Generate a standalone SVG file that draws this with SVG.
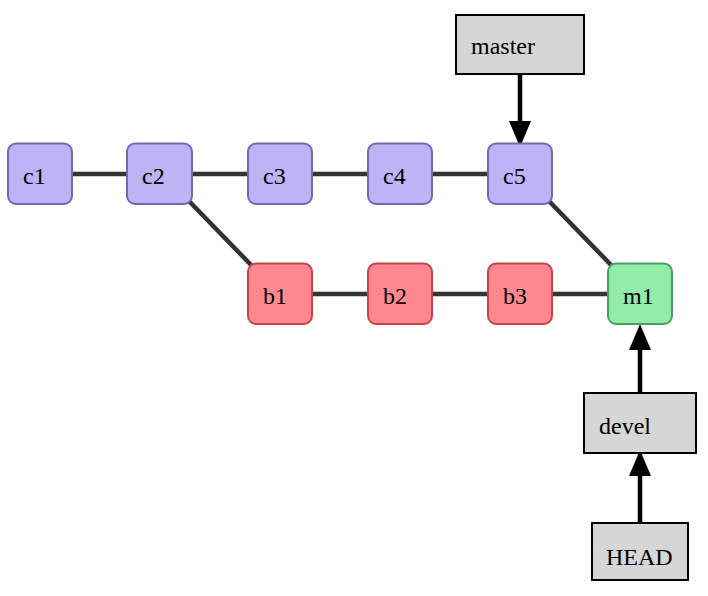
<svg xmlns="http://www.w3.org/2000/svg" width="708" height="596" viewBox="0 0 708 596">
<style>
.n rect{stroke-width:2}
.c rect{fill:#bdb3f5;stroke:#7766b0}
.b rect{fill:#ff8890;stroke:#c8404a}
.m rect{fill:#90eca8;stroke:#4c9f62}
.r rect{fill:#d6d6d6;stroke:#000;stroke-width:2}
text{font-family:"Liberation Serif","Times New Roman",serif;font-size:24px;fill:#000}
.e line{stroke:#333;stroke-width:4.5}
.a line{stroke:#000;stroke-width:4.5}
</style>
<defs>
<marker id="ah" viewBox="0 0 26 22" refX="0" refY="11" markerWidth="26" markerHeight="22" markerUnits="userSpaceOnUse" orient="auto">
<path d="M0,0 L26,11 L0,22 z" fill="#000"/>
</marker>
</defs>
<g id="connectors">
<g class="e">
<line x1="72" y1="174" x2="127" y2="174"/>
<line x1="192" y1="174" x2="248" y2="174"/>
<line x1="312" y1="174" x2="368" y2="174"/>
<line x1="432" y1="174" x2="488" y2="174"/>
<line x1="187" y1="199" x2="253" y2="267"/>
<line x1="547" y1="199" x2="613" y2="267"/>
<line x1="312" y1="294" x2="368" y2="294"/>
<line x1="432" y1="294" x2="488" y2="294"/>
<line x1="552" y1="294" x2="608" y2="294"/>
</g>
<g class="a">
<line x1="520" y1="74" x2="520" y2="121" marker-end="url(#ah)"/>
<line x1="640" y1="393" x2="640" y2="350" marker-end="url(#ah)"/>
<line x1="640" y1="523" x2="640" y2="476" marker-end="url(#ah)"/>
</g>
</g>
<g id="c1" class="n c"><rect x="8" y="143.5" width="64" height="60.5" rx="8"/><text x="23" y="184">c1</text></g>
<g id="c2" class="n c"><rect x="127" y="143.5" width="65" height="60.5" rx="8"/><text x="142" y="184">c2</text></g>
<g id="c3" class="n c"><rect x="248" y="143.5" width="64" height="60.5" rx="8"/><text x="263" y="184">c3</text></g>
<g id="c4" class="n c"><rect x="368" y="143.5" width="64" height="60.5" rx="8"/><text x="383" y="184">c4</text></g>
<g id="c5" class="n c"><rect x="488" y="143.5" width="64" height="60.5" rx="8"/><text x="503" y="184">c5</text></g>
<g id="b1" class="n b"><rect x="248" y="263.5" width="64" height="60.5" rx="8"/><text x="263" y="304">b1</text></g>
<g id="b2" class="n b"><rect x="368" y="263.5" width="64" height="60.5" rx="8"/><text x="383" y="304">b2</text></g>
<g id="b3" class="n b"><rect x="488" y="263.5" width="64" height="60.5" rx="8"/><text x="503" y="304">b3</text></g>
<g id="m1" class="n m"><rect x="608" y="263.5" width="64" height="60.5" rx="8"/><text x="623" y="304">m1</text></g>
<g id="master" class="r"><rect x="456" y="15" width="128" height="59"/><text x="471" y="54">master</text></g>
<g id="devel" class="r"><rect x="584" y="393" width="112" height="60"/><text x="599" y="434">devel</text></g>
<g id="HEAD" class="r"><rect x="592" y="523" width="96" height="57"/><text x="606" y="565">HEAD</text></g>
</svg>
